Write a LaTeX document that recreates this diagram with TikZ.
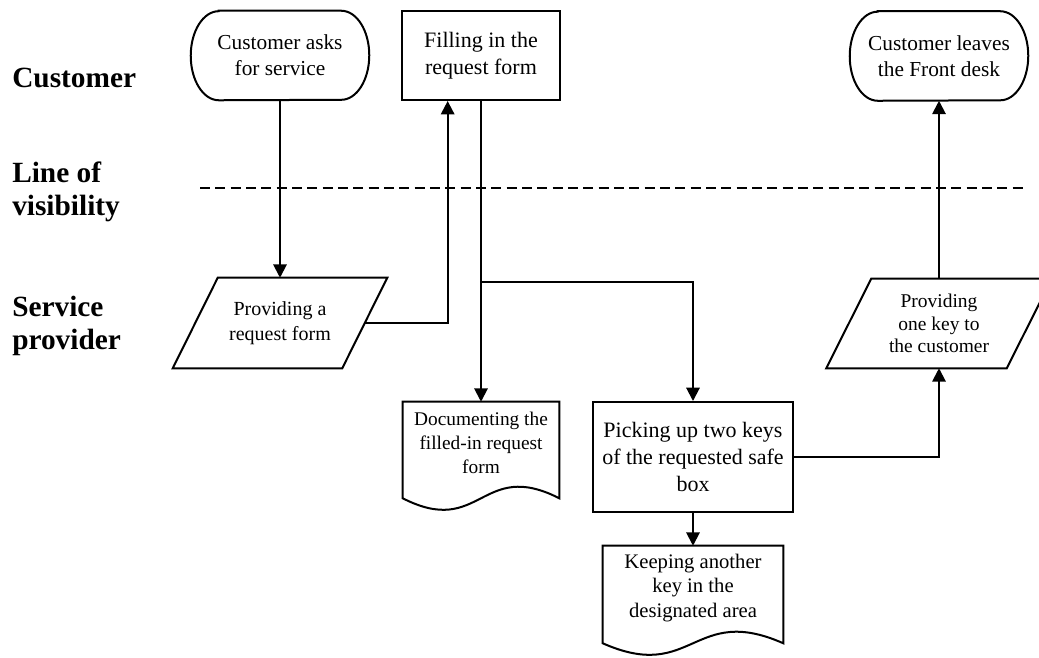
\documentclass[tikz,border=0pt]{standalone}
\usepackage{fontspec}
\setmainfont{Liberation Serif}
\usetikzlibrary{arrows.meta,calc}

\tikzset{
  edge/.style={line width=1.5pt},
  flow/.style={edge,-{Triangle[length=10pt,width=10pt]}},
  lane/.style={font=\bfseries\fontsize{22}{25}\selectfont,align=left,inner sep=0pt},
  term/.style={rectangle,inner sep=0pt,minimum width=133.5pt,minimum height=66.75pt,
    align=center,font=\fontsize{16}{19.5}\selectfont},
  proc/.style={rectangle,draw,edge,align=center,inner sep=2pt,font=\fontsize{16.5}{20}\selectfont},
  slot/.style={rectangle,inner sep=0pt,align=center},
  doctext/.style={align=center,inner sep=0pt,yshift=5pt}
}

\begin{document}
\begin{tikzpicture}[x=0.75pt,y=-0.75pt]
\useasboundingbox (0,0) rectangle (1039,657);
\clip (0,0) rectangle (1039,657);
% lanes
\node[lane,anchor=base west] (lcust) at (12,87) {Customer};
\node[lane,anchor=west] (lvis) at (12,192) {Line of\\visibility};
\node[lane,anchor=west] (lserv) at (12,326) {Service\\provider};
\draw[edge,dash pattern=on 7.5pt off 4pt] (200,188) -- (1025,188);

% customer
\node[term] (ask) at (280,55.5) {Customer asks\\for service};
\node[term] (leave) at (939,56) {Customer leaves\\the Front desk};
\foreach \t in {ask,leave}
  \draw[edge] ($(\t.north west)+(28,0)$) -- ($(\t.north east)+(-28,0)$)
    arc[start angle=90,end angle=-90,x radius=21pt,y radius=33.4pt]
    -- ($(\t.south west)+(28,0)$)
    arc[start angle=270,end angle=90,x radius=21pt,y radius=33.4pt] -- cycle;
\node[proc,minimum width=118.5pt,minimum height=66.75pt] (fill) at (481,55.5) {Filling in the\\request form};

% service provider
\node[slot,minimum width=126.75pt,minimum height=67.5pt,font=\fontsize{15}{18.75}\selectfont] (give) at (280,323) {Providing a\\request form};
\node[slot,minimum width=135pt,minimum height=66.75pt,font=\fontsize{14.6}{17}\selectfont] (hand) at (939,323.5) {Providing\\one key to\\the customer};
\foreach \p in {give,hand}
  \draw[edge] ($(\p.north west)+(22.5,0)$) -- ($(\p.north east)+(22.5,0)$) -- ($(\p.south east)+(-22.5,0)$) -- ($(\p.south west)+(-22.5,0)$) -- cycle;

\node[proc,minimum width=150pt,minimum height=82.5pt] (pick) at (693,457) {Picking up two keys\\of the requested safe\\box};

\node[slot,minimum width=117pt,minimum height=72pt,
  label={[doctext,font=\fontsize{14.5}{18}\selectfont]center:{Documenting the\\filled-in request\\form}}] (docA) at (481,450) {};
\node[slot,minimum width=135pt,minimum height=72.75pt,
  label={[doctext,font=\fontsize{15.5}{18.5}\selectfont]center:{Keeping another\\key in the\\designated area}}] (docB) at (693,594.5) {};
\foreach \d in {docA,docB}
  \draw[edge] (\d.north west) -- (\d.north east) -- (\d.south east) .. controls ($(\d.south)+(0,-40)$) and ($(\d.south)+(0,40)$) .. (\d.south west) -- cycle;

% connectors
\coordinate (split) at (481,282);
\draw[flow] (ask) -- (give);
\draw[flow] (give.east) -| ([xshift=-25pt]fill.south);
\draw[flow] (fill) -- (docA);
\draw[flow] (split) -| (pick);
\draw[flow] (pick) -- (docB);
\draw[flow] (pick.east) -| (hand);
\draw[flow] (hand) -- (leave);
\end{tikzpicture}
\end{document}
